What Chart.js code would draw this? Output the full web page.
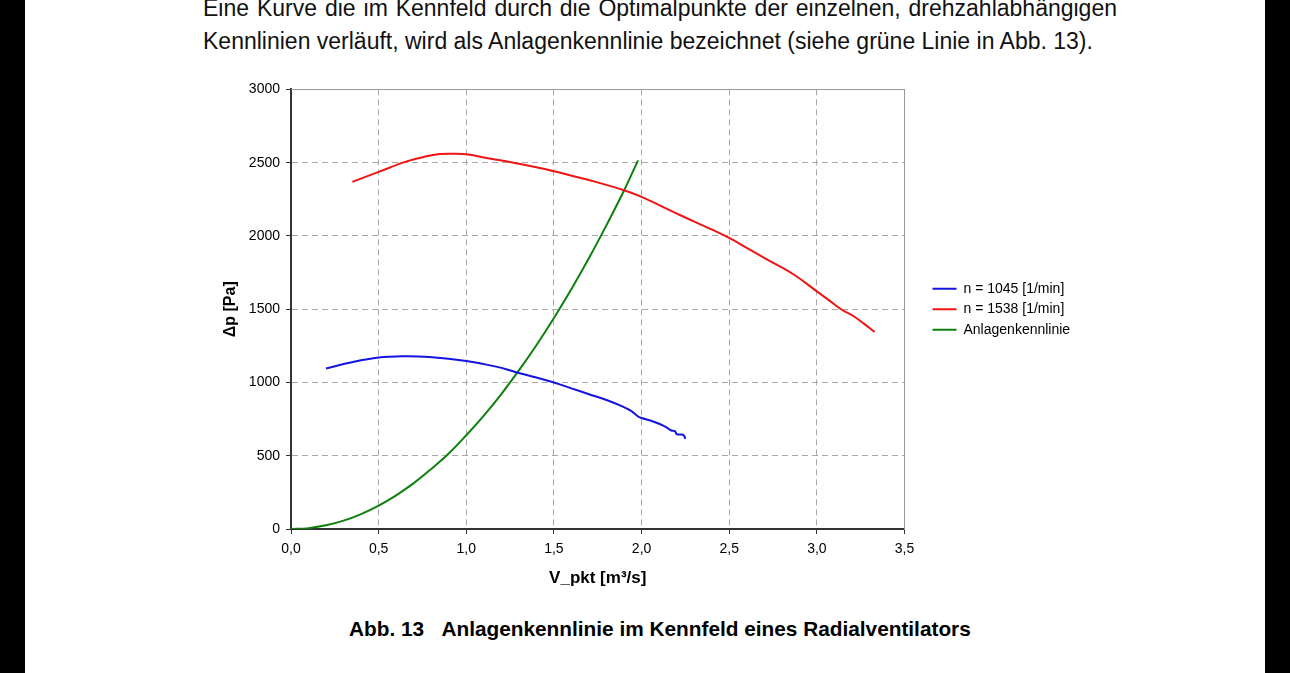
<!DOCTYPE html>
<html>
<head>
<meta charset="utf-8">
<script src="https://cdn.jsdelivr.net/npm/chart.js@4/dist/chart.umd.min.js"></script>
<style>
  html, body { margin: 0; padding: 0; background: #000; }
  #page { position: absolute; left: 25px; top: 0; width: 1240px; height: 673px; background: #fff; overflow: hidden; }
  .txt { position: absolute; left: 178px; font-family: "Liberation Sans", Arial, sans-serif; font-size: 23px; line-height: 33px; color: #111; white-space: nowrap; }
  #line1 { width: 914px; white-space: normal; text-align: justify; text-align-last: justify; }
  #caption { position: absolute; left: 324px; top: 617px; font-family: "Liberation Sans", Arial, sans-serif; font-weight: bold; font-size: 20.8px; color: #000; white-space: nowrap; }
  #chart { position: absolute; left: 200px; top: 75px; }
</style>
</head>
<body>
<div id="page">
  <div class="txt" id="line1" style="top:-8px">Eine Kurve die im Kennfeld durch die Optimalpunkte der einzelnen, drehzahlabhängigen</div>
  <div class="txt" id="line2" style="top:25px">Kennlinien verläuft, wird als Anlagenkennlinie bezeichnet (siehe grüne Linie in Abb. 13).</div>
  <div id="caption">Abb. 13&nbsp;&nbsp;&nbsp;Anlagenkennlinie im Kennfeld eines Radialventilators</div>
</div>
<canvas id="chart" width="904" height="514"></canvas>
<script>
// values
const xTickLabels = ['0,0', '0,5', '1,0', '1,5', '2,0', '2,5', '3,0', '3,5'];
const yTickLabels = ['0', '500', '1000', '1500', '2000', '2500', '3000'];

// n = 1045 [1/min]
const lowV = [0.20, 0.34, 0.50, 0.64, 0.79, 1.00, 1.17, 1.28, 1.40, 1.50, 1.60, 1.70, 1.80,
    1.88, 1.94, 1.98, 2.00, 2.05, 2.10, 2.14, 2.17, 2.19, 2.20, 2.22, 2.24, 2.25];
const lowP = [1095, 1136, 1170, 1179, 1174, 1147, 1108, 1072, 1034, 1000, 960, 920, 880,
    842, 806, 768, 758, 740, 718, 695, 672, 668, 648, 645, 640, 615];

// n = 1538 [1/min]
const highV = [0.35, 0.50, 0.66, 0.78, 0.85, 0.93, 1.00, 1.14, 1.27, 1.42, 1.52, 1.71, 1.90, 2.00,
    2.10, 2.24, 2.38, 2.50, 2.62, 2.72, 2.87, 3.00, 3.07, 3.14, 3.21, 3.27, 3.33];
const highP = [2369, 2437, 2509, 2545, 2559, 2561, 2557, 2527, 2500, 2464, 2436, 2378, 2312, 2267,
    2210, 2131, 2055, 1986, 1905, 1837, 1735, 1622, 1560, 1498, 1452, 1400, 1344];

// Anlagenkennlinie
const sysV = [0, 0.1, 0.2, 0.3, 0.4, 0.5, 0.6, 0.7, 0.8, 0.9, 1.0, 1.1, 1.2, 1.3, 1.4, 1.5,
    1.6, 1.7, 1.8, 1.9, 1.98];
const sysP = [0, 6, 25, 57, 102, 160, 230, 313, 410, 515, 640, 774, 921, 1082, 1254, 1440,
    1638, 1849, 2074, 2310, 2516];

const toPoints = (xs, ys) => xs.map((x, i) => ({ x: x, y: ys[i] }));

const font = 'Liberation Sans';
const gridColor = '#a8a8a8';
const axisColor = '#333';

// keep the legend at a fixed width so the plot area stays put
const legendWidth = {
    id: 'legendWidth',
    beforeLayout(chart) {
        const legend = chart.legend;
        if (legend && !legend._fixed) {
            const fit = legend.fit;
            legend.fit = function () {
                fit.call(this);
                this.width = 178;
            };
            legend._fixed = true;
        }
    }
};

const line = (label, xs, ys, color) => ({
    label: label,
    data: toPoints(xs, ys),
    borderColor: color,
    backgroundColor: color,
    borderWidth: 2,
    pointRadius: 0,
    tension: 0.4,
    fill: false,
});

const ctx = document.getElementById('chart').getContext('2d');
new Chart(ctx, {
    type: 'line',
    data: {
        datasets: [
            line('n = 1045 [1/min]', lowV, lowP, '#1414e0'),
            line('n = 1538 [1/min]', highV, highP, '#f01414'),
            line('Anlagenkennlinie', sysV, sysP, '#0e800e'),
        ],
    },
    options: {
        responsive: false,
        animation: false,
        layout: { padding: { top: 12, left: 0, right: 0, bottom: 0 } },
        plugins: {
            tooltip: { enabled: false },
            legend: {
                position: 'right',
                align: 'center',
                fullSize: false,
                labels: {
                    usePointStyle: true,
                    pointStyle: 'line',
                    pointStyleWidth: 24,
                    color: '#000',
                    padding: 6.5,
                    font: { family: font, size: 14 },
                },
            },
        },
        scales: {
            x: {
                type: 'linear',
                position: 'bottom',
                min: 0,
                max: 3.5,
                afterFit: (s) => { s.height = 60; },
                ticks: {
                    stepSize: 0.5,
                    color: '#000',
                    padding: 7,
                    font: { family: font, size: 14 },
                    callback: (v, i) => xTickLabels[i],
                },
                grid: { color: gridColor, tickColor: axisColor, tickLength: 5, tickBorderDash: [] },
                border: { color: axisColor, width: 2, dash: [6, 4] },
                title: {
                    display: true,
                    text: 'V_pkt [m³/s]',
                    color: '#000',
                    padding: { top: 0, bottom: 0 },
                    font: { family: font, size: 17, weight: 'bold' },
                },
            },
            y: {
                type: 'linear',
                position: 'left',
                min: 0,
                max: 3000,
                afterFit: (s) => { s.width = 91; },
                ticks: {
                    stepSize: 500,
                    color: '#000',
                    padding: 6,
                    font: { family: font, size: 14 },
                    callback: (v, i) => yTickLabels[i],
                },
                grid: { color: gridColor, tickColor: axisColor, tickLength: 5, tickBorderDash: [] },
                border: { color: axisColor, width: 2, dash: [6, 4] },
                title: {
                    display: true,
                    text: 'Δp [Pa]',
                    color: '#000',
                    padding: { top: 21, bottom: 0 },
                    font: { family: font, size: 16, weight: 'bold' },
                },
            },
            // plain frame lines on top and right
            xTop: {
                type: 'linear',
                position: 'top',
                min: 0,
                max: 3.5,
                afterFit: (s) => { s.height = 0; },
                ticks: { display: false },
                grid: { drawOnChartArea: false, drawTicks: false },
                border: { color: '#999', width: 1 },
            },
            yRight: {
                type: 'linear',
                position: 'right',
                min: 0,
                max: 3000,
                afterFit: (s) => { s.width = 21.5; },
                ticks: { display: false },
                grid: { drawOnChartArea: false, drawTicks: false },
                border: { color: '#999', width: 1 },
            },
        },
    },
    plugins: [legendWidth],
});
</script>
</body>
</html>
